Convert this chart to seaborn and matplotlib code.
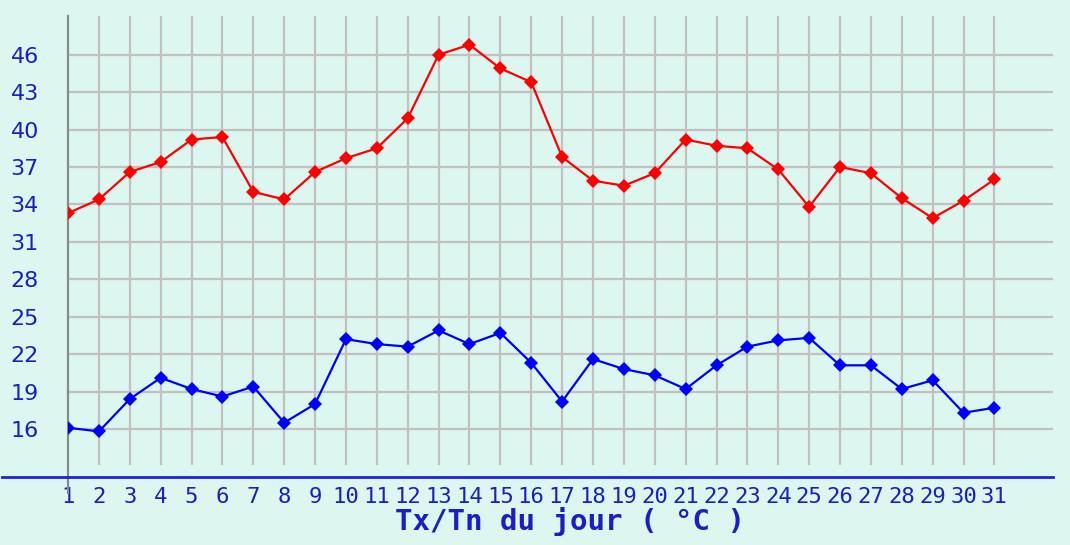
import matplotlib
matplotlib.use("Agg")
import matplotlib.pyplot as plt
import seaborn as sns
import pandas as pd

# daily values
days = list(range(1, 32))
tx = [33.3, 34.4, 36.6, 37.4, 39.2, 39.4, 35.0, 34.4, 36.6, 37.7,
      38.5, 40.9, 46.0, 46.8, 44.9, 43.8, 37.8, 35.9, 35.5, 36.5,
      39.2, 38.7, 38.5, 36.8, 33.8, 37.0, 36.5, 34.5, 32.9, 34.3, 36.0]
tn = [16.1, 15.8, 18.4, 20.1, 19.2, 18.6, 19.4, 16.5, 18.0, 23.2,
      22.8, 22.6, 23.9, 22.8, 23.7, 21.3, 18.2, 21.6, 20.8, 20.3,
      19.2, 21.1, 22.6, 23.1, 23.3, 21.1, 21.1, 19.2, 19.9, 17.3, 17.7]
y_ticks = [16, 19, 22, 25, 28, 31, 34, 37, 40, 43, 46]
x_label = "Tx/Tn du jour ( °C )"

BG = "#dcf7f0"
GRID = "#c4c0c0"
TXT = "#1c1cc8"

df = pd.DataFrame({"jour": days, "Tx": tx, "Tn": tn})

fig = plt.figure(figsize=(10.7, 5.45), dpi=100, facecolor=BG)
ax = fig.add_axes([0.0636, 0.1248, 0.9206, 0.8458])
ax.set_facecolor(BG)
x_max = 32.9
y_min, y_max = 12.15, 49.1
ax.set_xlim(1, x_max)
ax.set_ylim(y_min, y_max)

# grid
ax.hlines(y_ticks, 1, x_max, color=GRID, lw=1.6, zorder=1)
ax.vlines(days[1:], 13.1, 49.1, color=GRID, lw=1.6, zorder=1)
# left dark line and bottom blue axis
ax.plot([1, 1], [10.9, 49.1], color="#8a8a8a", lw=1.6, clip_on=False, zorder=2)
ax.plot([-0.067, 1.0], [0, 0], transform=ax.transAxes, color="#2020e0",
        lw=2.0, clip_on=False, zorder=3)

sns.lineplot(data=df, x="jour", y="Tx", ax=ax, color="#ff0000", lw=1.6,
             marker="D", markersize=7.5, markeredgewidth=0, zorder=4)
sns.lineplot(data=df, x="jour", y="Tn", ax=ax, color="#0000ff", lw=1.6,
             marker="D", markersize=7.5, markeredgewidth=0, zorder=4)

for s in ax.spines.values():
    s.set_visible(False)

ax.set_yticks(y_ticks)
ax.set_yticklabels([str(v) for v in y_ticks], color=TXT, fontsize=16,
                   family="DejaVu Sans")
ax.set_xticks(days)
ax.set_xticklabels([str(d) for d in days], color=TXT, fontsize=16,
                   family="DejaVu Sans Mono")
ax.tick_params(axis="y", length=0, pad=21)
ax.tick_params(axis="x", length=0, pad=7)
ax.set_xlabel("")
ax.set_ylabel("")

fig.text(570 / 1070, (545 - 522) / 545, x_label, ha="center", va="center",
         color=TXT, fontsize=21, fontweight="bold", family="DejaVu Sans Mono")

fig.savefig("out.png", dpi=100, facecolor=BG)
